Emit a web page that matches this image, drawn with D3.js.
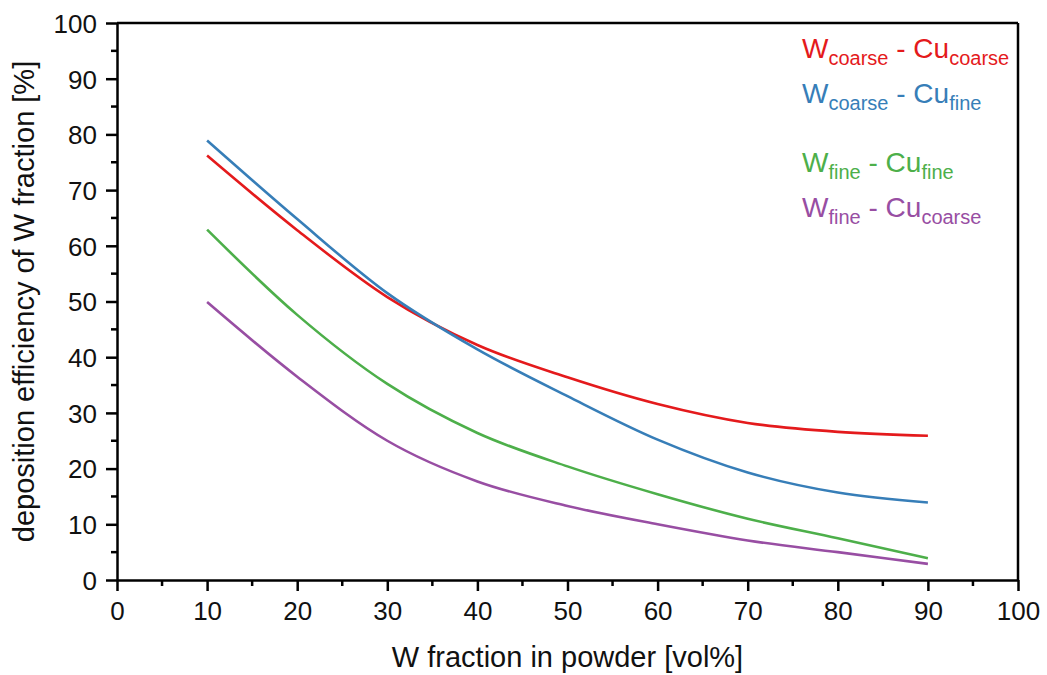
<!DOCTYPE html>
<html>
<head>
<meta charset="utf-8">
<script src="https://cdn.jsdelivr.net/npm/d3@7/dist/d3.min.js"></script>
<style>
  html, body { margin: 0; padding: 0; background: #fff; }
  text { font-family: "Liberation Sans", Arial, sans-serif; fill: #111; }
</style>
</head>
<body>
<svg id="chart" width="1047" height="675"></svg>
<script>
const xValues = [10, 20, 30, 40, 50, 60, 70, 80, 90];
const wCoarseCuCoarse = [76.2, 62.8, 50.8, 42.2, 36.4, 31.6, 28.2, 26.6, 25.9];
const wCoarseCuFine   = [78.9, 64.8, 51.5, 41.4, 33.0, 25.2, 19.3, 15.7, 13.9];
const wFineCuFine     = [62.9, 47.6, 35.2, 26.4, 20.4, 15.4, 11.0, 7.5, 3.9];
const wFineCuCoarse   = [49.9, 36.5, 25.0, 17.7, 13.3, 10.0, 7.1, 5.0, 2.9];

const seriesNames = [
  ["coarse", "coarse"],
  ["coarse", "fine"],
  ["fine", "fine"],
  ["fine", "coarse"]
];
const seriesColors = ["#e41a1c", "#377eb8", "#4daf4a", "#984ea3"];
const seriesValues = [wCoarseCuCoarse, wCoarseCuFine, wFineCuFine, wFineCuCoarse];

const xTicks = [0, 10, 20, 30, 40, 50, 60, 70, 80, 90, 100];
const yTicks = [0, 10, 20, 30, 40, 50, 60, 70, 80, 90, 100];
const xTitle = "W fraction in powder [vol%]";
const yTitle = "deposition efficiency of W fraction [%]";

const svg = d3.select("#chart");
const m = { left: 117, right: 1018, top: 23, bottom: 580 };

const x = d3.scaleLinear().domain([0, 100]).range([m.left, m.right]);
const y = d3.scaleLinear().domain([0, 100]).range([m.bottom, m.top]);

// frame top & right
svg.append("line").attr("x1", m.left).attr("x2", m.right).attr("y1", m.top).attr("y2", m.top)
  .attr("stroke", "#000").attr("stroke-width", 2.5);
svg.append("line").attr("x1", m.right).attr("x2", m.right).attr("y1", m.top).attr("y2", m.bottom)
  .attr("stroke", "#000").attr("stroke-width", 2.5);

// minor ticks
const minorX = d3.range(5, 100, 10);
const minorY = d3.range(5, 100, 10);
svg.append("g").selectAll("line").data(minorX).join("line")
  .attr("x1", d => x(d)).attr("x2", d => x(d)).attr("y1", m.bottom).attr("y2", m.bottom + 6)
  .attr("stroke", "#000").attr("stroke-width", 2.5);
svg.append("g").selectAll("line").data(minorY).join("line")
  .attr("y1", d => y(d)).attr("y2", d => y(d)).attr("x1", m.left).attr("x2", m.left - 6)
  .attr("stroke", "#000").attr("stroke-width", 2.5);

// axes
const xAxis = d3.axisBottom(x).tickValues(xTicks).tickSize(11).tickPadding(10).tickSizeOuter(0);
const yAxis = d3.axisLeft(y).tickValues(yTicks).tickSize(11).tickPadding(9).tickSizeOuter(0);

const gx = svg.append("g").attr("transform", `translate(0,${m.bottom})`).call(xAxis);
const gy = svg.append("g").attr("transform", `translate(${m.left},0)`).call(yAxis);
[gx, gy].forEach(g => {
  g.select(".domain").attr("stroke", "#000").attr("stroke-width", 2.5);
  g.selectAll(".tick line").attr("stroke", "#000").attr("stroke-width", 2.5);
  g.selectAll(".tick text").attr("font-size", 26).attr("font-family", "Liberation Sans, Arial, sans-serif").attr("fill", "#111");
});
gy.selectAll(".tick text").attr("dy", "0.36em");
gx.selectAll(".tick text").attr("dy", "0.72em");

// titles
svg.append("text").attr("x", (m.left + m.right) / 2).attr("y", 667)
  .attr("text-anchor", "middle").attr("font-size", 29).text(xTitle);
svg.append("text").attr("transform", `translate(34,${(m.top + m.bottom) / 2}) rotate(-90)`)
  .attr("text-anchor", "middle").attr("font-size", 29).text(yTitle);

// lines
const line = d3.line().x((d, i) => x(xValues[i])).y(d => y(d)).curve(d3.curveMonotoneX);
svg.append("g").selectAll("path").data(seriesValues).join("path")
  .attr("d", d => line(d)).attr("fill", "none")
  .attr("stroke", (d, i) => seriesColors[i]).attr("stroke-width", 2.6);

// legend
const legendY = [58, 103, 172, 217];
const lg = svg.append("g");
seriesNames.forEach((n, i) => {
  const t = lg.append("text").attr("x", 802).attr("y", legendY[i]).attr("font-size", 28)
    .style("fill", seriesColors[i]);
  t.append("tspan").text("W").style("fill", seriesColors[i]);
  t.append("tspan").attr("font-size", 20).attr("dy", 7).text(n[0]).style("fill", seriesColors[i]);
  t.append("tspan").attr("dy", -7).text(" - Cu").style("fill", seriesColors[i]);
  t.append("tspan").attr("font-size", 20).attr("dy", 7).text(n[1]).style("fill", seriesColors[i]);
});
</script>
</body>
</html>
